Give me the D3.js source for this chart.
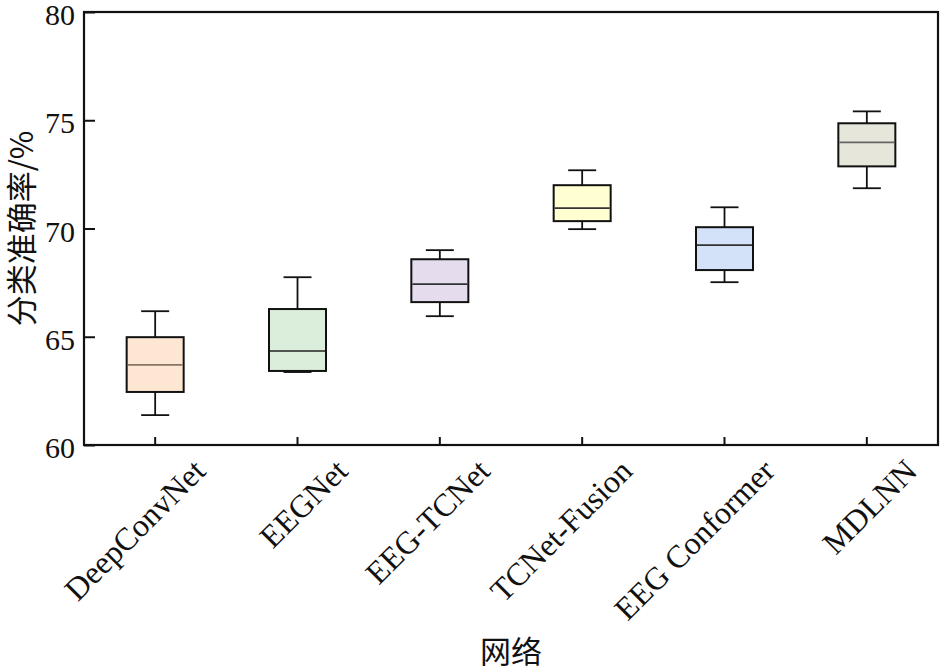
<!DOCTYPE html>
<html>
<head>
<meta charset="utf-8">
<script src="https://cdn.jsdelivr.net/npm/d3@7"></script>
<style>
  html, body { margin: 0; padding: 0; background: #fff; }
  svg text { font-family: "Liberation Serif", "DejaVu Serif", serif; fill: #111; }
  svg text.cjk { font-family: "Noto Sans CJK SC", sans-serif; }
</style>
</head>
<body>
<svg id="chart" width="942" height="671"></svg>
<script>
// Box-plot data (classification accuracy, %)
const models = ["DeepConvNet", "EEGNet", "EEG-TCNet", "TCNet-Fusion", "EEG Conformer", "MDLNN"];
const whiskerLow = [61.38, 63.37, 65.95, 69.97, 67.52, 71.86];
const q1 = [62.45, 63.42, 66.60, 70.34, 68.08, 72.87];
const median = [63.70, 64.34, 67.43, 70.94, 69.23, 73.98];
const q3 = [64.98, 66.28, 68.58, 72.00, 70.06, 74.86];
const whiskerHigh = [66.18, 67.75, 69.00, 72.69, 70.98, 75.41];
const fills = ["#fde6d2", "#dbeedb", "#e5dded", "#ffffd2", "#d3e2f8", "#e6e6db"];
const medianColors = ["#8a7466", "#222", "#333", "#333", "#333", "#666"];
const yTicks = [60, 65, 70, 75, 80];

const svg = d3.select("#chart");
const margin = { left: 84, top: 12, right: 4, bottom: 226 };
const W = 942, H = 671;
const x0 = margin.left, x1 = W - margin.right;
const y0 = H - margin.bottom, y1 = margin.top;

const x = d3.scaleBand().domain(models).range([x0, x1]);
const y = d3.scaleLinear().domain([60, 80]).range([y0, y1]);

const boxW = 57, capW = 28;

const rows = models.map((m, i) => ({
  name: m, lo: whiskerLow[i], q1: q1[i], med: median[i], q3: q3[i], hi: whiskerHigh[i],
  fill: fills[i], medColor: medianColors[i]
}));

const g = svg.append("g");
const boxes = g.selectAll(".box").data(rows).enter().append("g")
  .attr("transform", d => `translate(${x(d.name) + x.bandwidth() / 2},0)`);

// whiskers
boxes.append("line").attr("x1", 0).attr("x2", 0)
  .attr("y1", d => y(d.hi)).attr("y2", d => y(d.q3))
  .attr("stroke", "#111").attr("stroke-width", 1.8);
boxes.append("line").attr("x1", 0).attr("x2", 0)
  .attr("y1", d => y(d.lo)).attr("y2", d => y(d.q1))
  .attr("stroke", "#111").attr("stroke-width", 1.8);
boxes.append("line").attr("x1", -capW / 2).attr("x2", capW / 2)
  .attr("y1", d => y(d.hi)).attr("y2", d => y(d.hi))
  .attr("stroke", "#111").attr("stroke-width", 1.8);
boxes.append("line").attr("x1", -capW / 2).attr("x2", capW / 2)
  .attr("y1", d => y(d.lo)).attr("y2", d => y(d.lo))
  .attr("stroke", "#111").attr("stroke-width", 1.8);

// box
boxes.append("rect")
  .attr("x", -boxW / 2).attr("width", boxW)
  .attr("y", d => y(d.q3)).attr("height", d => y(d.q1) - y(d.q3))
  .attr("fill", d => d.fill).attr("stroke", "#111").attr("stroke-width", 2);

// median
boxes.append("line").attr("x1", -boxW / 2 + 1).attr("x2", boxW / 2 - 1)
  .attr("y1", d => y(d.med)).attr("y2", d => y(d.med))
  .attr("stroke", d => d.medColor).attr("stroke-width", 1.6);

// frame
svg.append("rect").attr("x", x0).attr("y", y1)
  .attr("width", x1 - x0).attr("height", y0 - y1)
  .attr("fill", "none").attr("stroke", "#111").attr("stroke-width", 2.2);

// y axis (ticks inside)
const yAxis = svg.append("g").attr("transform", `translate(${x0},0)`)
  .call(d3.axisLeft(y).tickValues(yTicks).tickSize(-11).tickPadding(9));
yAxis.select(".domain").remove();
yAxis.selectAll(".tick line").attr("stroke", "#111").attr("stroke-width", 2);
yAxis.selectAll(".tick text")
  .style("font-family", "'Liberation Serif', serif")
  .style("font-size", "30px")
  .attr("fill", "#111").attr("dy", "0.42em");

// x axis (ticks inside, rotated labels)
const xAxis = svg.append("g").attr("transform", `translate(0,${y0})`)
  .call(d3.axisBottom(x).tickSize(-8).tickFormat(""));
xAxis.select(".domain").remove();
xAxis.selectAll(".tick line").attr("stroke", "#111").attr("stroke-width", 2);

svg.append("g").selectAll("text").data(models).enter().append("text")
  .attr("transform", d => `translate(${x(d) + x.bandwidth() / 2 + 52},${y0 + 28}) rotate(-45)`)
  .attr("text-anchor", "end")
  .style("font-size", "32px")
  .text(d => d);

// axis titles
svg.append("text").attr("class", "cjk")
  .attr("transform", `translate(33,${(y0 + y1) / 2}) rotate(-90)`)
  .attr("text-anchor", "middle")
  .style("font-size", "31px")
  .text("分类准确率/%");

svg.append("text").attr("class", "cjk")
  .attr("x", (x0 + x1) / 2).attr("y", 663)
  .attr("text-anchor", "middle")
  .style("font-size", "31px")
  .text("网络");
</script>
</body>
</html>
